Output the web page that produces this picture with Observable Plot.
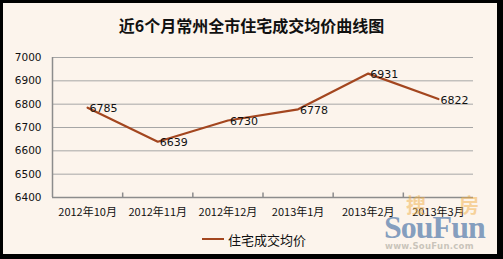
<!DOCTYPE html>
<html><head><meta charset="utf-8">
<script src="https://cdn.jsdelivr.net/npm/d3@7"></script>
<script src="https://cdn.jsdelivr.net/npm/@observablehq/plot@0.6"></script>
<style>
html,body{margin:0;padding:0;background:#000;}
#frame{position:absolute;left:0;top:0;width:503px;height:259px;background:#000;overflow:hidden;}
#panel{position:absolute;left:3px;top:3px;width:494px;height:251px;background:#fcf4ec;}
#title{position:absolute;left:0;top:0;width:503px;height:44px;text-align:center;font:bold 16px "Noto Sans CJK SC";line-height:50px;color:#111;}
#chart{position:absolute;left:0;top:44px;}
#legend{position:absolute;left:0;top:233px;width:503px;height:16px;font:13px "Noto Sans CJK SC";color:#111;}
#legend .sw{position:absolute;left:202px;top:5px;width:22px;height:2px;}
#legend .lb{position:absolute;left:228px;top:-3px;}
.wm{position:absolute;white-space:nowrap;line-height:1;}
</style></head>
<body><div id="frame"><div id="panel"></div>
<div id="title"></div>
<div id="chart"></div>
<div id="legend"><div class="sw"></div><div class="lb"></div></div>
<div class="wm" style="left:406px;top:190px;font:bold 20px 'Noto Sans CJK SC';color:rgba(240,175,70,0.5);">搜</div>
<div class="wm" style="left:459px;top:190px;font:bold 20px 'Noto Sans CJK SC';color:rgba(240,175,70,0.5);">房</div>
<div class="wm" style="left:384px;top:209px;font:bold 32px 'Liberation Serif';color:rgba(80,120,170,0.7);letter-spacing:-1px;">SouFun</div>
<div class="wm" style="left:385px;top:241px;font:bold 8.5px 'DejaVu Sans';color:rgba(195,190,180,0.9);letter-spacing:0.3px;">www.SouFun.com</div>
</div>
<script>
const titleText = "近6个月常州全市住宅成交均价曲线图";
const seriesName = "住宅成交均价";
const months = ["2012年10月","2012年11月","2012年12月","2013年1月","2013年2月","2013年3月"];
const prices = [6785, 6639, 6730, 6778, 6931, 6822];
const yTicks = [6400, 6500, 6600, 6700, 6800, 6900, 7000];
const lineColor = "#a3461f";

document.getElementById("title").textContent = titleText;
document.querySelector("#legend .lb").textContent = seriesName;
document.querySelector("#legend .sw").style.background = lineColor;

const data = months.map((m, i) => ({i, m, c: i + 0.5, v: prices[i]}));
const bounds = d3.range(months.length + 1);
const yMin = yTicks[0], yMax = yTicks[yTicks.length - 1];
const upTick = {draw(context) { context.moveTo(0, 0); context.lineTo(0, -5); }};

const chart = Plot.plot({
  width: 503, height: 190,
  marginLeft: 52, marginRight: 30, marginTop: 13, marginBottom: 37,
  style: {background: "transparent", fontFamily: "DejaVu Sans", fontSize: "10.5px", color: "#111"},
  x: {type: "linear", domain: [0, months.length], axis: null},
  y: {type: "linear", domain: [yMin, yMax], axis: null},
  marks: [
    Plot.ruleY(yTicks.slice(1), {y: d => d, stroke: "#a6a6a6", strokeWidth: 1}),
    Plot.dot(bounds.slice(1, -1), {x: d => d, y: () => yMin, symbol: upTick, r: 3, fill: "none", stroke: "#8c8c8c", strokeWidth: 1.5}),
    Plot.ruleY([yMin], {y: d => d, stroke: "#8c8c8c", strokeWidth: 1.5}),
    Plot.ruleX([0], {x: d => d, stroke: "#8c8c8c", strokeWidth: 1.5}),
    Plot.text(yTicks, {x: () => 0, y: d => d, text: d => String(d), textAnchor: "end", dx: -11, fill: "#111"}),
    Plot.text(data, {x: "c", y: () => yMin, text: "m", dy: 15, fontFamily: "Noto Sans CJK SC", fontSize: 11, fill: "#111"}),
    Plot.line(data, {x: "c", y: "v", stroke: lineColor, strokeWidth: 2.2}),
    Plot.text(data, {x: "c", y: "v", text: d => String(d.v), textAnchor: "start", dx: 2, dy: 1, fontSize: 11, fill: "#111"})
  ]
});
document.getElementById("chart").appendChild(chart);
</script>
</body></html>
